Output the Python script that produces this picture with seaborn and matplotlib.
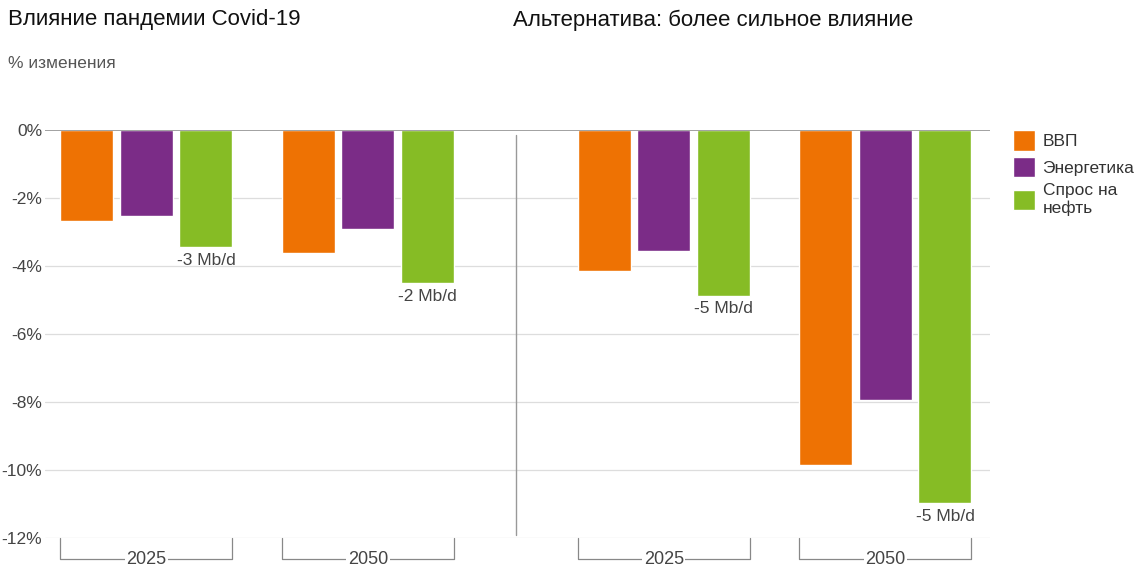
import pandas as pd
import seaborn as sns
import matplotlib
import matplotlib.pyplot as plt

sns.set_style('white')
plt.rcParams['font.family'] = ['Liberation Sans', 'DejaVu Sans']

# данные
periods = ['2025', '2050', '2025', '2050']
positions = [0, 1, 2.336, 3.336]   # две панели на одной оси
series = ['ВВП', 'Энергетика', 'Спрос на\nнефть']
gdp = [-2.68, -3.62, -4.15, -9.85]
energy = [-2.53, -2.91, -3.56, -7.94]
oil = [-3.44, -4.50, -4.88, -10.97]
oil_labels = ['-3 Mb/d', '-2 Mb/d', '-5 Mb/d', '-5 Mb/d']
yticks = [0, -2, -4, -6, -8, -10, -12]
colors = ['#ee7203', '#7b2c87', '#86bc25']

rows = []
for s, vals in zip(series, [gdp, energy, oil]):
    for p, v in zip(positions, vals):
        rows.append({'pos': p, 'val': v, 'series': s})
df = pd.DataFrame(rows)

fig = plt.figure(figsize=(11.37, 5.65), dpi=100)
ax = fig.add_axes([45/1137, 1-538/565, 945/1137, 408/565])

sns.barplot(data=df, x='pos', y='val', hue='series', hue_order=series,
            palette=colors, native_scale=True, width=0.806, gap=0.11,
            saturation=1, ax=ax, zorder=2)

ax.set_xlim(-0.458, 3.808)
ax.set_ylim(-12, 0)
ax.set_yticks(yticks)
ax.set_yticklabels([f'{t}%' for t in yticks], fontsize=12.5, color='#444444')
ax.tick_params(axis='y', length=0, pad=2)
ax.set_xticks([])
ax.set_xlabel('')
ax.set_ylabel('')
for sp in ax.spines.values():
    sp.set_visible(False)
for t in yticks[1:]:
    ax.axhline(t, color='#dddddd', lw=0.9, zorder=1)
ax.axhline(0, color='#888888', lw=1.1, zorder=3)

# разделитель панелей
mid = (positions[1] + positions[2]) / 2
ax.plot([mid, mid], [-0.15, -11.9], color='#999999', lw=1, zorder=1)

# подписи под зелеными столбцами
for bar, lab in zip(ax.containers[2].patches, oil_labels):
    ax.annotate(lab, (bar.get_x() + bar.get_width()/2, bar.get_y() + bar.get_height()),
                xytext=(0, -4), textcoords='offset points',
                ha='center', va='top', fontsize=12.5, color='#444444')

# скобки с годами
ybot = -12 - 21/34
for i, per in enumerate(periods):
    left = ax.containers[0].patches[i].get_x()
    r = ax.containers[2].patches[i]
    right = r.get_x() + r.get_width()
    ax.plot([left, left, right, right], [-12, ybot, ybot, -12],
            color='#888888', lw=0.9, clip_on=False)
    ax.text((left+right)/2, ybot, per, ha='center', va='center',
            fontsize=13, color='#444444',
            bbox=dict(facecolor='white', edgecolor='none', pad=1))

h, l = ax.get_legend_handles_labels()
ax.legend(h, l, loc='upper left', bbox_to_anchor=(1.024, 1.0),
          frameon=False, borderpad=0, borderaxespad=0,
          handlelength=1.27, handleheight=1.44, handletextpad=0.45,
          labelspacing=0.35, fontsize=12.5, labelcolor='#333333')

fig.text(8/1137, 1-20/565, 'Влияние пандемии Covid-19', fontsize=16,
         va='center', color='#111111')
fig.text(513/1137, 1-20/565, 'Альтернатива: более сильное влияние', fontsize=16,
         va='center', color='#111111')
fig.text(8/1137, 1-63/565, '% изменения', fontsize=12.5, va='center', color='#555555')

plt.savefig('out.png', dpi=100)
plt.close()
